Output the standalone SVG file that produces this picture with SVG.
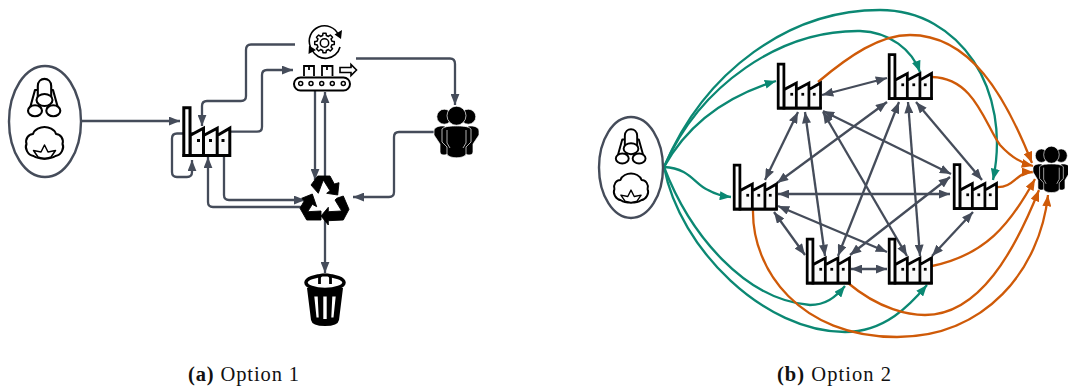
<svg xmlns="http://www.w3.org/2000/svg" width="1068" height="388" viewBox="0 0 1068 388">
<style>
.e{fill:none;stroke:#454c5a;stroke-width:2.300}
.g{fill:none;stroke:#454c5a;stroke-width:2.300}
.t{fill:none;stroke:#0b8873;stroke-width:2.300}
.o{fill:none;stroke:#cf5a08;stroke-width:2.300}
.oval{fill:#fff;stroke:#454c5a;stroke-width:2.400}
.ic{fill:none;stroke:#000;stroke-width:2.100;stroke-linejoin:round}
.cap{font-family:"Liberation Serif",serif;font-size:20.500px;fill:#111}
.capb{font-weight:bold}
</style>
<defs>
<marker id="ag" viewBox="0 0 10 8" refX="10" refY="4" markerWidth="11.500" markerHeight="9" markerUnits="userSpaceOnUse" orient="auto-start-reverse"><path d="M0 0L10 4L0 8Z" fill="#454c5a"/></marker>
<marker id="at" viewBox="0 0 10 8" refX="10" refY="4" markerWidth="11.500" markerHeight="9" markerUnits="userSpaceOnUse" orient="auto"><path d="M0 0L10 4L0 8Z" fill="#0b8873"/></marker>
<marker id="ao" viewBox="0 0 10 8" refX="10" refY="4" markerWidth="11.500" markerHeight="9" markerUnits="userSpaceOnUse" orient="auto"><path d="M0 0L10 4L0 8Z" fill="#cf5a08"/></marker>
<symbol id="factory" overflow="visible">
<path d="M7.500 49V29L21 21.700V49H7.500ZM21 29L34.700 21.700V49H21ZM34.700 29L47.300 21.700V49H34.700Z" fill="#fafafa" stroke="#000" stroke-width="3"/>
<path d="M1.300 49V1.300H7.500V49Z" fill="#fff" stroke="#000" stroke-width="3"/>
<path d="M0 49H48.500" fill="none" stroke="#000" stroke-width="3"/>
<rect x="14.500" y="32.500" width="3" height="3" fill="#000"/><rect x="26.500" y="32.500" width="3" height="3" fill="#000"/><rect x="39" y="32.500" width="3" height="3" fill="#000"/>
</symbol>
<symbol id="material" overflow="visible">
<g class="ic">
<path d="M-14.500 -13L-9.500 -31H-6.500M-3.500 -13L-6 -17M13.500 -13L8.500 -31H6.500M2.500 -13L5 -17"/>
<path d="M-6.700 -21V-35C-6.700 -44.500 6.700 -44.500 6.700 -35V-21"/>
<ellipse cx="0" cy="-21" rx="8" ry="6" fill="#fff"/>
<ellipse cx="-9.500" cy="-10.300" rx="7" ry="5.500" fill="#fff"/><ellipse cx="8.800" cy="-10.300" rx="7" ry="5.500" fill="#fff"/>
<path d="M-11 35C-17 34-20 27-18 23C-19.500 18-16 13-11.500 13C-10 8-4 6 0 6C4 6 10 8 11.500 13C16 13 19.500 18 18 23C20 27 17 34 11 35C6 38.500-6 38.500-11 35Z"/>
<path d="M0 24L3.500 31L11 29.500L6.500 36L0 38L-6.500 36L-11 29.500L-3.500 31Z" stroke-width="1.500"/>
</g>
</symbol>
<symbol id="people" overflow="visible">
<g fill="#000" stroke="#fff" stroke-width=".7">
<circle cx="10.300" cy="10.700" r="7.500"/><circle cx="34.300" cy="10.700" r="7.500"/>
<path d="M0 25C0 21 5 19.500 11 20L14 42V46C14 50 6 50 6 46V38L0 29Z"/>
<path d="M45 25C45 21 40 19.500 34 20L31 42V46C31 50 39 50 39 46V38L45 29Z"/>
<circle cx="22.500" cy="9.700" r="9.500"/>
<path d="M8 23C11 20 17 20 22.500 20C28 20 34 20 37 23V36L32 41V48C31 53 14 53 13 48V41L8 36Z"/>
</g>
<path d="M13 24V37L16 42M32 24V37L29 42" fill="none" stroke="#ddd" stroke-width=".8"/>
</symbol>
</defs>

<g id="connectors-a">
<path class="e" marker-end="url(#ag)" d="M81 121H180"/>
<path class="e" marker-end="url(#ag)" d="M295 44.500H251Q246 44.500 246 50V96Q246 101 241 101H207Q202 101 202 106V126"/>
<path class="e" marker-end="url(#ag)" d="M231 131.700H257Q262 131.700 262 127V75Q262 70 267 70H293"/>
<path class="e" marker-end="url(#ag)" d="M356 58.500H450Q455 58.500 455 64V105"/>
<path class="e" marker-end="url(#ag)" d="M435 132H399Q394 132 394 137V192Q394 197 389 197H353"/>
<path class="e" marker-end="url(#ag)" d="M315 91V180"/>
<path class="e" marker-end="url(#ag)" d="M325 178V92"/>
<path class="e" marker-end="url(#ag)" d="M224 157V195Q224 200 229 200H305"/>
<path class="e" marker-end="url(#ag)" d="M302 207H213Q208 207 208 202V157"/>
<path class="e" marker-end="url(#ag)" d="M193 133.500H177Q172 133.500 172 138.500V172Q172 177 177 177H187Q192 177 192 172V160"/>
<path class="e" marker-end="url(#ag)" d="M325 212V273"/>
</g>
<g id="node-materials-a"><ellipse class="oval" cx="45" cy="121.500" rx="36" ry="55.500"/><use href="#material" x="44.500" y="121"/></g>
<g id="node-factory-a"><use href="#factory" x="182.500" y="106.500"/></g>
<g id="node-gear">
<circle cx="324.500" cy="43" r="4.200" fill="none" stroke="#000" stroke-width="1.500"/>
<path fill="none" stroke="#000" stroke-width="1.700" stroke-linejoin="round" transform="translate(324.500 43) scale(.9)" d="M8.250 -2.060L10.860 -1.720L10.860 1.720L8.250 2.060L7.290 4.380L8.900 6.470L6.470 8.900L4.380 7.290L2.060 8.250L1.720 10.860L-1.720 10.860L-2.060 8.250L-4.380 7.290L-6.470 8.900L-8.900 6.470L-7.290 4.380L-8.250 2.060L-10.860 1.720L-10.860 -1.720L-8.250 -2.060L-7.290 -4.380L-8.900 -6.470L-6.470 -8.900L-4.380 -7.290L-2.060 -8.250L-1.720 -10.860L1.720 -10.860L2.060 -8.250L4.380 -7.290L6.470 -8.900L8.900 -6.470L7.290 -4.380Z"/>
<path fill="none" stroke="#000" stroke-width="1.600" d="M310.500 47A15 15 0 0 1 338.500 35M340 47A15 15 0 0 1 312 50"/>
<path d="M341 39L334.500 34.500L342 30ZM309 45.500L316 50L308.500 54Z" fill="#000"/>
</g>
<g id="node-conveyor">
<rect x="294" y="77.500" width="56" height="13" rx="6.500" fill="#fff" stroke="#000" stroke-width="2"/>
<g fill="none" stroke="#000" stroke-width="1.500"><circle cx="300.700" cy="83.500" r="2"/><circle cx="311" cy="83.500" r="2"/><circle cx="321.700" cy="83.500" r="2"/><circle cx="332.300" cy="83.500" r="2"/><circle cx="343.300" cy="83.500" r="2"/></g>
<path d="M304 76V66H314V76M322 76V66H332.500V76M309 66V70M327 66V70" fill="none" stroke="#000" stroke-width="1.800"/>
<path d="M340 67.500H351V64.500L356.500 70L351 75.500V72.500H340Z" fill="none" stroke="#000" stroke-width="1.600"/>
</g>
<g id="node-people-a"><use href="#people" x="434" y="106"/></g>
<g id="node-recycle" fill="#000" stroke="#000" stroke-width=".9" stroke-linejoin="round">
<path d="M311 185L317.700 176H330L334.300 184L339 182.700L337.700 195L326.700 193.300L330 190.700L323.300 180L318.300 193.300Z"/>
<path d="M301.700 198.300L312.300 194L316.700 206.700L312.300 204.300L307.700 211.700L321 211V220H306.700L300 208.300L304.300 200.700Z"/>
<path d="M336.700 198.300L343.300 196L349 209.300L343.300 220L328.300 220.700V225L321 216L328.300 207.300V211.700L341.700 211L335 200Z"/>
</g>
<g id="node-trash">
<path d="M307 288L311 320Q312 326 325 326Q338 326 339 320L343 288Z" fill="#000"/>
<ellipse cx="325" cy="282.500" rx="19" ry="7" fill="#fff" stroke="#000" stroke-width="3.500"/>
<path d="M319.500 284V278Q319.500 275 322.500 275H327.500Q330.500 275 330.500 278V284" fill="#fff" stroke="#000" stroke-width="2.800"/>
<path d="M314.300 296.500H317.700L318.700 317.500H316.500ZM323.300 296.500H326.700V319H323.300ZM332.300 296.500H335.700L333.500 317.500H331.300Z" fill="#fff"/>
</g>

<g id="connectors-b">
<g class="g">
<path d="M822 95L887 78" marker-start="url(#ag)" marker-end="url(#ag)"/>
<path d="M798 112L765 180" marker-start="url(#ag)" marker-end="url(#ag)"/>
<path d="M805 112L825 256" marker-start="url(#ag)" marker-end="url(#ag)"/>
<path d="M823 112L907 256" marker-start="url(#ag)" marker-end="url(#ag)"/>
<path d="M823 111L951 174" marker-start="url(#ag)" marker-end="url(#ag)"/>
<path d="M887 102L777 183" marker-start="url(#ag)" marker-end="url(#ag)"/>
<path d="M899 102L838 256" marker-start="url(#ag)" marker-end="url(#ag)"/>
<path d="M908 102L920 256" marker-start="url(#ag)" marker-end="url(#ag)"/>
<path d="M916 102L982 180" marker-start="url(#ag)" marker-end="url(#ag)"/>
<path d="M778 194H950" marker-start="url(#ag)" marker-end="url(#ag)"/>
<path d="M774 212L805 255" marker-start="url(#ag)" marker-end="url(#ag)"/>
<path d="M778 206L887 252" marker-start="url(#ag)" marker-end="url(#ag)"/>
<path d="M950 177L850 255" marker-start="url(#ag)" marker-end="url(#ag)"/>
<path d="M973 212L932 256" marker-start="url(#ag)" marker-end="url(#ag)"/>
<path d="M851 269H887" marker-start="url(#ag)" marker-end="url(#ag)"/>
</g>
<path class="t" marker-end="url(#at)" d="M664 167C690 120 730 95 776 81"/>
<path class="t" marker-end="url(#at)" d="M664 167C700 85 780 30 860 31C890 32 912 50 920 72"/>
<path class="t" marker-end="url(#at)" d="M664 167C705 70 790 10 880 10C960 10 1012 90 993 180"/>
<path class="t" marker-end="url(#at)" d="M664 167C690 168 695 185 708 190C715 194 722 196 731 197"/>
<path class="t" marker-end="url(#at)" d="M664 167C690 235 745 300 810 305C825 305 835 298 845 286"/>
<path class="t" marker-end="url(#at)" d="M664 167C680 250 765 332 845 332C885 332 910 305 927 285"/>
<path class="o" marker-end="url(#ao)" d="M818 82C850 55 880 35 910 35C970 35 1005 95 1032 163"/>
<path class="o" marker-end="url(#ao)" d="M932 77C975 78 985 125 1000 145C1010 156 1020 163 1033 166"/>
<path class="o" marker-end="url(#ao)" d="M996 187C1015 188 1015 172 1033 172"/>
<path class="o" marker-end="url(#ao)" d="M932 266C985 255 1010 225 1035 179"/>
<path class="o" marker-end="url(#ao)" d="M848 283C880 310 910 315 925 315C980 315 1015 250 1039 190"/>
<path class="o" marker-end="url(#ao)" d="M753 210C752 270 800 337 897 337C985 337 1040 270 1048 195"/>
</g>
<g id="node-materials-b"><ellipse class="oval" cx="631" cy="167.500" rx="32" ry="50.500"/><use href="#material" transform="translate(631 168) scale(.92)"/></g>
<g id="node-factory-1"><use href="#factory" transform="translate(777 63) scale(.92)"/></g>
<g id="node-factory-2"><use href="#factory" transform="translate(888 53.500) scale(.92)"/></g>
<g id="node-factory-3"><use href="#factory" transform="translate(953 163.500) scale(.92)"/></g>
<g id="node-factory-4"><use href="#factory" transform="translate(733 164) scale(.92)"/></g>
<g id="node-factory-5"><use href="#factory" transform="translate(806 238) scale(.92)"/></g>
<g id="node-factory-6"><use href="#factory" transform="translate(888 238) scale(.92)"/></g>
<g id="node-people-b"><use href="#people" transform="translate(1033 146) scale(.82 .9)"/></g>

<text class="cap" x="188" y="381" textLength="111"><tspan class="capb">(a)</tspan> Option 1</text>
<text class="cap" x="777" y="381" textLength="114"><tspan class="capb">(b)</tspan> Option 2</text>
</svg>
